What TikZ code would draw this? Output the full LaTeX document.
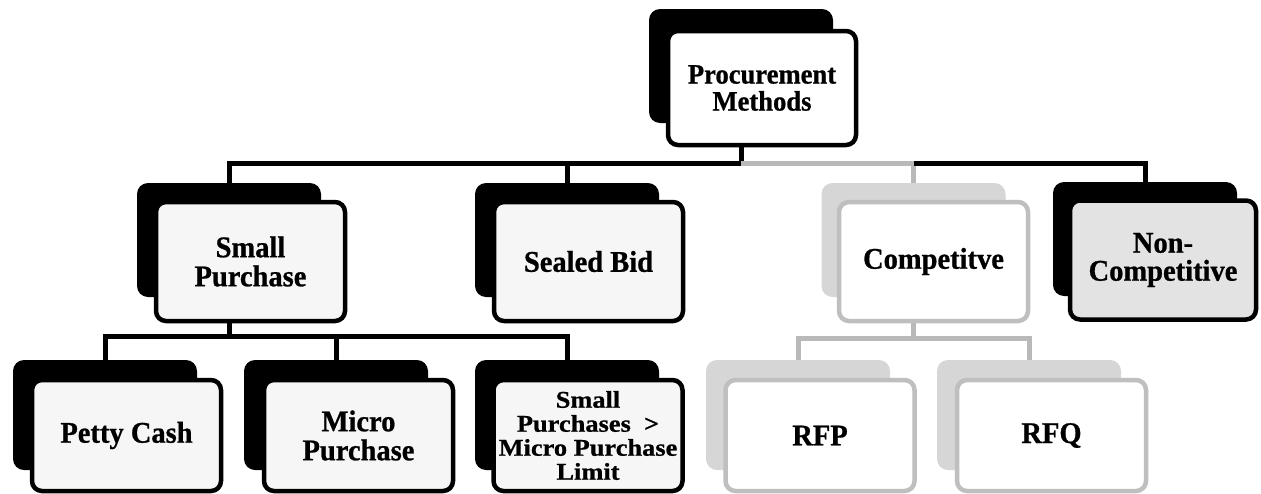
\documentclass[tikz,border=0pt]{standalone}
\usepackage{fontspec}
\setmainfont[FakeStretch=0.95,BoldFeatures={FakeBold=0.8}]{Liberation Serif}
\newfontfamily\widefont[FakeStretch=1.1,BoldFeatures={FakeBold=0.8}]{Liberation Serif}
\begin{document}
\begin{tikzpicture}[x=1pt,y=-1pt,
  boxshadow/.style={fill=black, rounded corners=11pt, inner sep=0pt, minimum width=184pt, minimum height=114pt},
  gboxshadow/.style={boxshadow, fill=gray!32},
  boxfront/.style={draw=black, line width=4.5pt, fill=gray!7, rounded corners=10pt, inner sep=0pt, minimum width=189pt, minimum height=119pt, align=center, font=\fontsize{30}{29}\selectfont\bfseries},
  gboxfront/.style={boxfront, draw=gray!50, fill=white},
  lowfront/.style={minimum height=111pt},
  conn/.style={line width=5pt, draw=black},
  gconn/.style={conn, draw=gray!55}]
\useasboundingbox (0,0) rectangle (1261,493);
\clip (0,0) rectangle (1261,493);
\fill[white] (0,0) rectangle (1261,493);
\coordinate (bus1) at (0,163);
\coordinate (bus2) at (0,336);
\coordinate (bus3) at (0,338);
% shadows
\node[boxshadow] (topS) at (741,66) {};
\node[boxshadow] (spS) at (229,240) {};
\node[boxshadow] (sbS) at (567,240) {};
\node[gboxshadow] (compS) at (913.5,240) {};
\node[boxshadow] (ncS) at (1145,239) {};
\node[boxshadow, minimum height=110pt] (pcS) at (105,415) {};
\node[boxshadow, minimum height=110pt] (mpS) at (336,415) {};
\node[boxshadow, minimum height=110pt] (spmlS) at (567,415) {};
\node[gboxshadow, minimum height=110pt] (rfpS) at (798,415) {};
\node[gboxshadow, minimum height=110pt] (rfqS) at (1029,415) {};
% fronts
\node[boxfront, fill=white, minimum width=188pt, minimum height=114pt, font=\fontsize{28}{27}\selectfont\bfseries] (top) at (762,88) {Procurement\\Methods};
\node[boxfront] (sp) at (250.5,261.5) {Small\\Purchase};
\node[boxfront] (sb) at (588.5,261.5) {Sealed Bid};
\node[gboxfront] (comp) at (933.5,261.5) {Competitve};
\node[boxfront, fill=gray!22, minimum width=186pt, font=\fontsize{30}{28}\selectfont\bfseries] (nc) at (1163,260) {Non-\\Competitive};
\node[boxfront, lowfront] (pc) at (126.5,435.5) {Petty Cash};
\node[boxfront, lowfront] (mp) at (358.5,435.5) {Micro\\Purchase};
\node[boxfront, lowfront, font=\fontsize{24}{24}\selectfont\widefont\bfseries] (spml) at (588,435.5) {Small\\Purchases~~>\\Micro Purchase\\Limit};
\node[gboxfront, lowfront] (rfp) at (820,435.5) {RFP};
\node[gboxfront, lowfront] (rfq) at (1051.5,435.5) {RFQ};
% connectors
\draw[conn] (topS.south |- top.south) -- (topS.south |- bus1);
\draw[conn] (spS.north) -- (spS.north |- bus1) -- (topS.south |- bus1);
\draw[conn] (sbS.north) -- (sbS.north |- bus1);
\draw[gconn] (topS.south |- bus1) -- (compS.north |- bus1) -- (compS.north);
\draw[conn] (compS.north |- bus1) -- (ncS.north |- bus1) -- (ncS.north);
\draw[conn] (spS.south |- sp.south) -- (spS.south |- bus2);
\draw[conn] (pcS.north) -- (pcS.north |- bus2) -- (spmlS.north |- bus2) -- (spmlS.north);
\draw[conn] (mpS.north) -- (mpS.north |- bus2);
\draw[gconn] (compS.south |- comp.south) -- (compS.south |- bus3);
\draw[gconn] (rfpS.north) -- (rfpS.north |- bus3) -- (rfqS.north |- bus3) -- (rfqS.north);
\end{tikzpicture}
\end{document}
